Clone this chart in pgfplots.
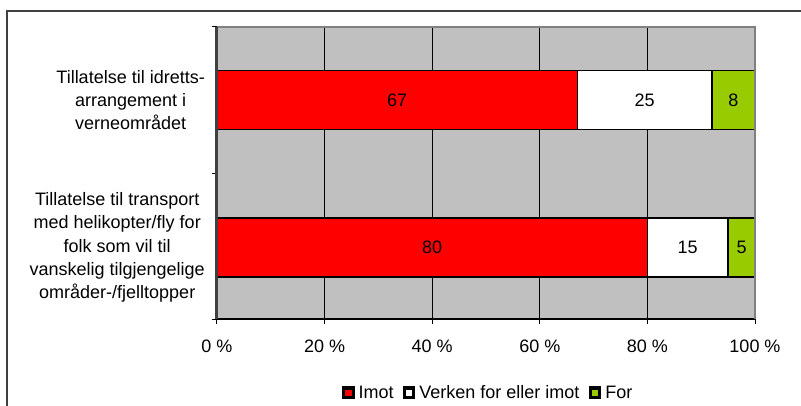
\documentclass[border=0pt]{standalone}
\usepackage{fontspec}
\setmainfont{Liberation Sans}
\usepackage{pgfplots}
\pgfplotsset{compat=1.18}
\definecolor{imot}{HTML}{FF0000}
\definecolor{forc}{HTML}{99CC00}
\definecolor{bg}{HTML}{C0C0C0}
\definecolor{frame}{HTML}{404040}
\begin{document}
\begin{tikzpicture}[x=1pt,y=1pt]
\useasboundingbox (0,0) rectangle (801,405);
\fill[white] (0,0) rectangle (801,405);
\draw[frame, line width=1.2pt] (7,-5) -- (7,394) -- (806,394);
\begin{axis}[
  at={(217pt,86pt)}, anchor=south west,
  scale only axis, width=538pt, height=292pt,
  xbar stacked, bar width=59pt,
  xmin=0, xmax=100, ymin=-0.485, ymax=1.495,
  axis background/.style={fill=bg},
  axis line style={draw=none},
  xtick={0,20,40,60,80,100},
  xticklabels={0 \%,20 \%,40 \%,60 \%,80 \%,100 \%},
  ytick={-0.485,0.505,1.495}, yticklabels={,,},
  xtick pos=bottom, ytick pos=left,
  tick align=outside, major tick length=5pt,
  tick style={black, line width=1pt},
  xmajorgrids, grid style={black, line width=0.8pt},
  /pgf/number format/assume math mode=true,
  xticklabel style={font=\fontsize{18}{22}\selectfont, inner sep=0pt, anchor=north, yshift=-16pt},
  extra y ticks={0,1},
  extra y tick labels={{Tillatelse til transport\\med helikopter/fly for\\folk som vil til\\vanskelig tilgjengelige\\områder-/fjelltopper},{Tillatelse til idretts-\\arrangement i\\verneområdet}},
  extra y tick style={major tick length=0pt, yticklabel style={align=center, font=\fontsize{18}{23.3}\selectfont, inner sep=0pt, anchor=east, xshift=-12pt}},
  nodes near coords,
  point meta=rawx,
  every node near coord/.append style={anchor=center, font=\fontsize{18}{22}\selectfont, text=black},
  legend columns=3,
  legend style={at={(0.502,-0.253)}, anchor=center, draw=none, fill=none,
    font=\fontsize{18}{22}\selectfont,
    nodes={inner sep=0pt},
    /tikz/every odd column/.append style={column sep=4pt},
    /tikz/every even column/.append style={column sep=9pt}},
  every axis plot post/.append style={legend image code/.code={\fill[black] (0pt,-5.5pt) rectangle (11pt,5.5pt); \fill[##1,draw=none] (2.2pt,-3.3pt) rectangle (8.8pt,3.3pt);}},
  after end axis/.code={
    \draw[black, line width=1.4pt] (rel axis cs:0,0) -- (rel axis cs:1,0);
    \draw[gray, line width=2pt] (rel axis cs:0,1) -- (rel axis cs:1,1) -- (rel axis cs:1,0);
    \draw[frame, line width=3pt] (rel axis cs:0,0) -- (rel axis cs:0,1);
  },
]
\addplot[fill=imot, draw=black, line width=1.8pt] coordinates {(67,1) (80,0)};
\addplot[fill=white, draw=black, line width=1.8pt] coordinates {(25,1) (15,0)};
\addplot[fill=forc, draw=black, line width=1.8pt] coordinates {(8,1) (5,0)};
\legend{Imot,Verken for eller imot,For}
\end{axis}
\end{tikzpicture}
\end{document}
